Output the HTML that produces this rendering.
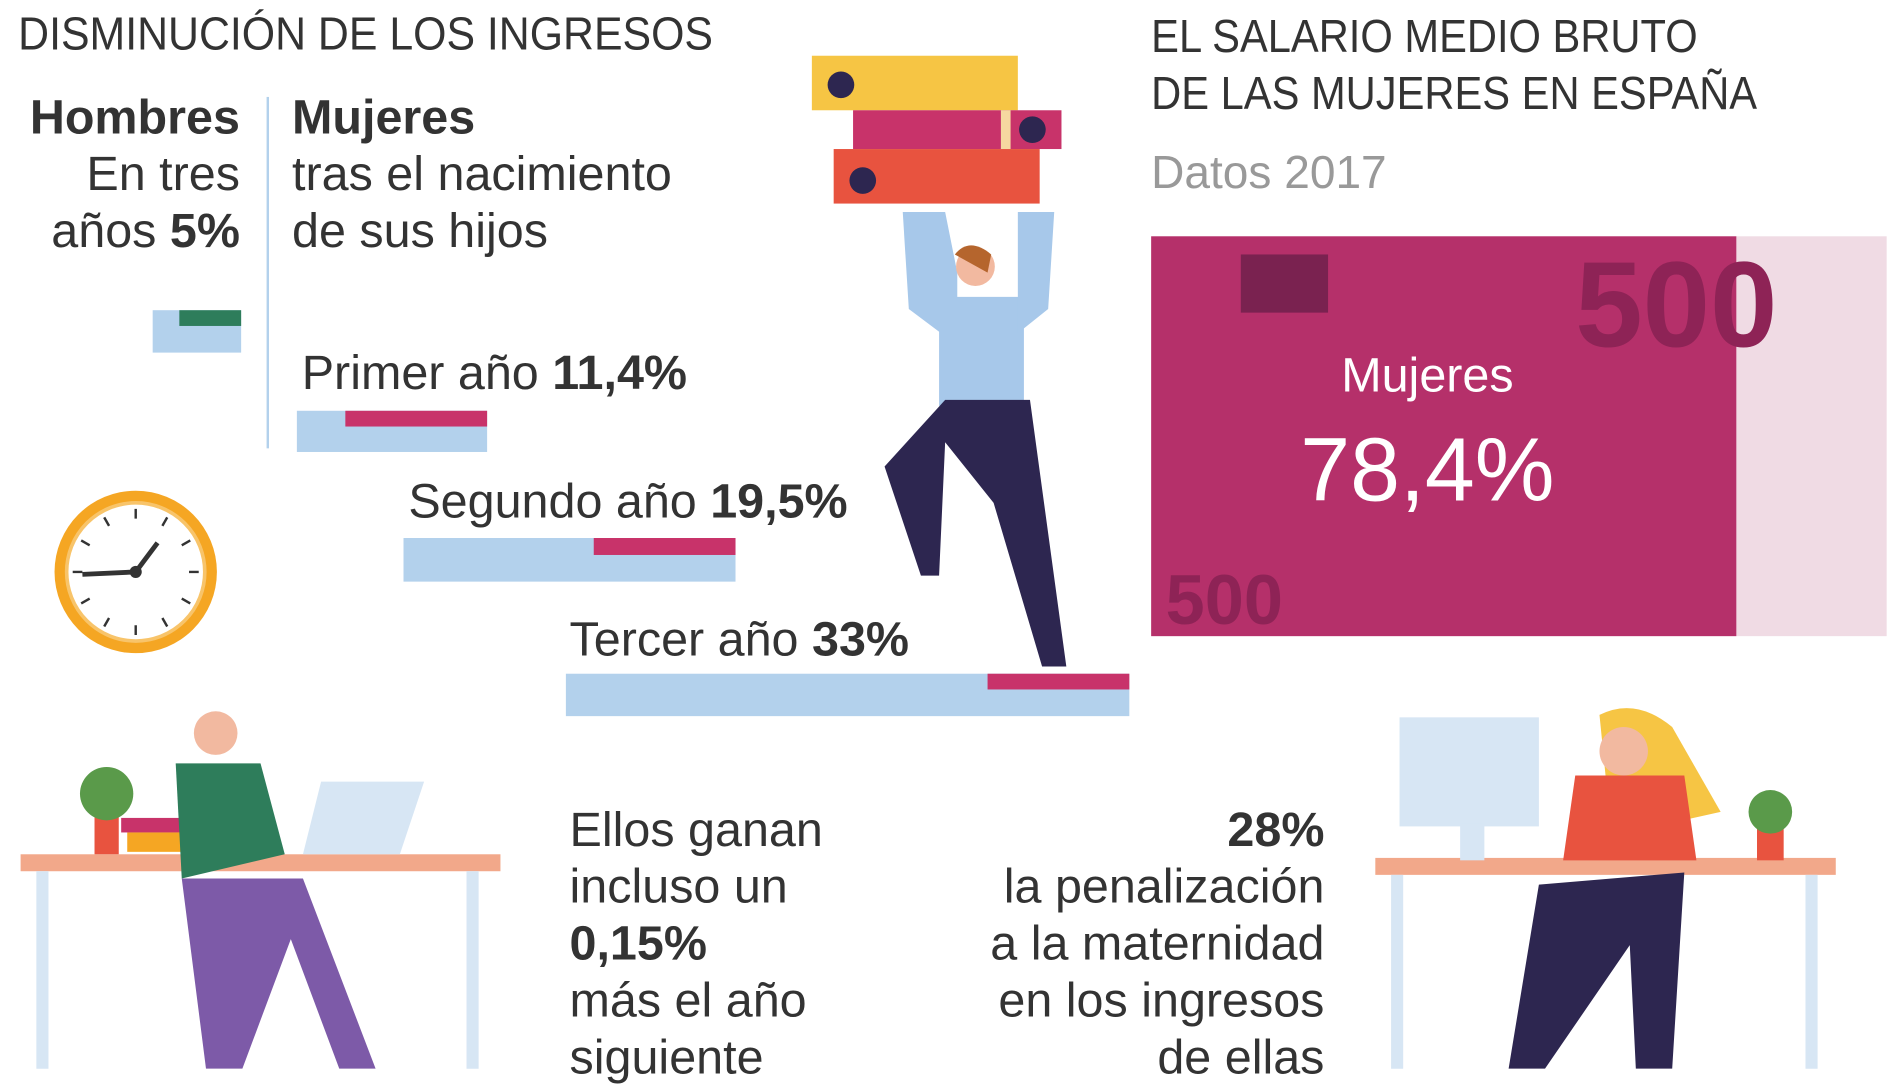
<!DOCTYPE html>
<html><head><meta charset="utf-8"><style>
html,body{margin:0;padding:0;background:#fff;overflow:hidden;width:1900px;height:1069px}
#w{position:absolute;left:0;top:0;width:1568px;height:882px;transform:scale(1.21173);transform-origin:0 0;font-family:"Liberation Sans Narrow","Liberation Sans",sans-serif;color:#333}
.t{position:absolute;white-space:nowrap}
.b{position:absolute}
.big{font-size:40px;line-height:47px}
</style></head><body><div id="w">
<div class="t" style="left:15px;top:8px;font-size:38px;transform:scaleX(0.93);transform-origin:0 0">DISMINUCIÓN DE LOS INGRESOS</div>
<div class="t big" style="right:1370px;top:74px;text-align:right"><b>Hombres</b><br>En tres<br>años <b>5%</b></div>
<div class="b" style="left:220px;top:80px;width:2px;height:290px;background:#b3d1ec"></div>
<div class="t big" style="left:241px;top:74px"><b>Mujeres</b><br>tras el nacimiento<br>de sus hijos</div>
<div class="b" style="left:126px;top:256px;width:73px;height:35px;background:#b3d1ec"></div>
<div class="b" style="left:148px;top:256px;width:51px;height:13px;background:#2e7d5b"></div>
<div class="t big" style="left:249px;top:285px">Primer año <b>11,4%</b></div>
<div class="b" style="left:245px;top:339px;width:157px;height:34px;background:#b3d1ec"></div>
<div class="b" style="left:285px;top:339px;width:117px;height:13px;background:#c8336a"></div>
<div class="t big" style="left:337px;top:391px">Segundo año <b>19,5%</b></div>
<div class="b" style="left:333px;top:444px;width:274px;height:36px;background:#b3d1ec"></div>
<div class="b" style="left:490px;top:444px;width:117px;height:14px;background:#c8336a"></div>
<div class="t big" style="left:470px;top:505px">Tercer año <b>33%</b></div>
<div class="b" style="left:467px;top:556px;width:465px;height:35px;background:#b3d1ec"></div>
<div class="b" style="left:815px;top:556px;width:117px;height:13px;background:#c8336a"></div>
<svg class="b" style="left:40px;top:400px" width="145" height="145"><circle cx="72" cy="72" r="67" fill="#f5a623"/><circle cx="72" cy="72" r="57" fill="#fff" stroke="#f8c46a" stroke-width="3"/><g stroke="#333" stroke-width="2"><line x1="72" y1="20" x2="72" y2="28"/><line x1="72" y1="116" x2="72" y2="124"/><line x1="20" y1="72" x2="28" y2="72"/><line x1="116" y1="72" x2="124" y2="72"/><line x1="98" y1="27" x2="94" y2="34"/><line x1="46" y1="27" x2="50" y2="34"/><line x1="98" y1="117" x2="94" y2="110"/><line x1="46" y1="117" x2="50" y2="110"/><line x1="27" y1="46" x2="34" y2="50"/><line x1="117" y1="46" x2="110" y2="50"/><line x1="27" y1="98" x2="34" y2="94"/><line x1="117" y1="98" x2="110" y2="94"/></g><line x1="72" y1="72" x2="28" y2="74" stroke="#333" stroke-width="4"/><line x1="72" y1="72" x2="90" y2="48" stroke="#333" stroke-width="4"/><circle cx="72" cy="72" r="5" fill="#333"/></svg>
<div class="b" style="left:670px;top:46px;width:170px;height:45px;background:#f6c544"></div>
<div class="b" style="left:704px;top:91px;width:172px;height:32px;background:#c8336a"></div>
<div class="b" style="left:826px;top:91px;width:8px;height:32px;background:#f6d8a0"></div>
<div class="b" style="left:688px;top:123px;width:170px;height:45px;background:#e8533f"></div>
<div class="b" style="left:683px;top:59px;width:22px;height:22px;border-radius:50%;background:#2d2650"></div>
<div class="b" style="left:841px;top:96px;width:22px;height:22px;border-radius:50%;background:#2d2650"></div>
<div class="b" style="left:701px;top:138px;width:22px;height:22px;border-radius:50%;background:#2d2650"></div>
<svg class="b" style="left:700px;top:165px" width="200" height="400"><path d="M45 10 L50 90 L90 120 L90 60 L80 10Z" fill="#a7c8ea"/><rect x="75" y="80" width="70" height="90" fill="#a7c8ea"/><path d="M80 165 L150 165 L180 385 L160 385 L120 250 L80 200 L75 310 L60 310 L30 220Z" fill="#2d2650"/><circle cx="105" cy="55" r="16" fill="#f2b9a0"/><path d="M88 45 Q100 30 118 45 L115 60 Z" fill="#b5652d"/><path d="M140 10 L170 10 L165 90 L140 110Z" fill="#a7c8ea"/></svg>
<div class="t" style="left:950px;top:8px;font-size:38px;line-height:47px;transform:scaleX(0.905);transform-origin:0 0">EL SALARIO MEDIO BRUTO<br>DE LAS MUJERES EN ESPAÑA</div>
<div class="t" style="left:950px;top:122px;font-size:38px;color:#999">Datos 2017</div>
<div class="b" style="left:950px;top:195px;width:483px;height:330px;background:#b5306a"></div>
<div class="b" style="left:1433px;top:195px;width:124px;height:330px;background:#f0dbe4"></div>
<div class="b" style="left:1024px;top:210px;width:72px;height:48px;background:#7a2250"></div>
<div class="t" style="left:1300px;top:195px;font-size:100px;font-weight:bold;color:#8e2356">500</div>
<div class="t" style="left:962px;top:462px;font-size:58px;font-weight:bold;color:#8e2356">500</div>
<div class="t" style="left:1078px;top:288px;width:200px;text-align:center;font-size:40px;color:#fff">Mujeres</div>
<div class="t" style="left:1068px;top:345px;width:220px;text-align:center;font-size:74px;color:#fff">78,4%</div>
<div class="t big" style="left:470px;top:662px">Ellos ganan<br>incluso un<br><b>0,15%</b><br>más el año<br>siguiente</div>
<div class="t big" style="right:475px;top:662px;text-align:right"><b>28%</b><br>la penalización<br>a la maternidad<br>en los ingresos<br>de ellas</div>
<div class="b" style="left:17px;top:705px;width:396px;height:14px;background:#f2a88a"></div>
<div class="b" style="left:30px;top:719px;width:10px;height:163px;background:#d7e6f4"></div>
<div class="b" style="left:385px;top:719px;width:10px;height:163px;background:#d7e6f4"></div>
<svg class="b" style="left:50px;top:575px" width="310" height="307"><path d="M215 70 L300 70 L280 130 L200 130Z" fill="#d7e6f4"/><rect x="28" y="95" width="20" height="35" fill="#e8533f"/><circle cx="38" cy="80" r="22" fill="#5a9a4a"/><rect x="50" y="100" width="60" height="12" fill="#c8336a"/><rect x="55" y="112" width="60" height="16" fill="#f5a623"/><circle cx="128" cy="30" r="18" fill="#f2b9a0"/><path d="M95 55 L165 55 L185 130 L100 150Z" fill="#2e7d5b"/><path d="M100 150 L200 150 L260 307 L230 307 L190 200 L150 307 L120 307Z" fill="#7d5aa8"/></svg>
<div class="b" style="left:1135px;top:708px;width:380px;height:14px;background:#f2a88a"></div>
<div class="b" style="left:1148px;top:722px;width:10px;height:160px;background:#d7e6f4"></div>
<div class="b" style="left:1490px;top:722px;width:10px;height:160px;background:#d7e6f4"></div>
<svg class="b" style="left:1150px;top:580px" width="360" height="302"><rect x="5" y="12" width="115" height="90" fill="#d7e6f4"/><rect x="55" y="100" width="20" height="30" fill="#d7e6f4"/><path d="M170 10 Q200 -5 230 20 L270 90 L180 110Z" fill="#f6c544"/><circle cx="190" cy="40" r="20" fill="#f2b9a0"/><path d="M150 60 L240 60 L250 130 L140 130Z" fill="#e8533f"/><path d="M120 150 L240 140 L230 302 L200 302 L195 200 L125 302 L95 302Z" fill="#2d2650"/><rect x="300" y="100" width="22" height="30" fill="#e8533f"/><circle cx="311" cy="90" r="18" fill="#5a9a4a"/></svg>
</div></body></html>
